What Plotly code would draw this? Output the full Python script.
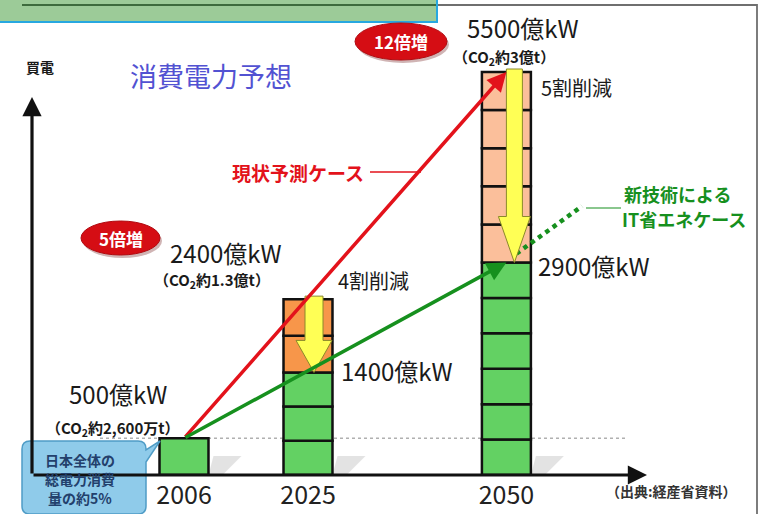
import plotly.graph_objects as go

# ---- data -----------------------------------------------------------------
years = ["2006", "2025", "2050"]
forecast_current = [500, 2400, 5500]      # 億kW  現状予測ケース
forecast_it_saving = [500, 1400, 2900]    # 億kW  新技術によるIT省エネケース
co2_notes = ["（CO<sub>2</sub>約2,600万t）", "（CO<sub>2</sub>約1.3億t）", "（CO<sub>2</sub>約3億t）"]
reduction_notes = ["", "4割削減", "5割削減"]
growth_notes = ["", "5倍増", "12倍増"]
green_cells = [1, 3, 6]
upper_cells = [0, 2, 5]

# ---- layout constants -------------------------------------------------------
W, H = 767, 514
ML, MB = 32, 39
PW, PH = W - ML, H - MB
XPOS = [0, 1, 2.6]                 # horizontal slot of each year
X_RANGE = [-1.2258, 4.7016]
Y_RANGE = [0, 6482.6]
U_PX = PW / (X_RANGE[1] - X_RANGE[0])   # px per x unit
V_PX = PH / (Y_RANGE[1] - Y_RANGE[0])   # px per y unit
BAR_W = 0.395

GREEN = "#63d163"
UPPER = ["#f7964a", "#f7964a", "#fbbf9b"]
RED = "#e3121b"
DKGREEN = "#16901e"
TXT = "#1a1a1a"
FONT = "Noto Sans CJK JP"


def px(x):
    return (x - ML) / PW


def py(y):
    return (PH - y) / PH


def data_to_px(u, v):
    return ML + (u - X_RANGE[0]) * U_PX, PH - (v - Y_RANGE[0]) * V_PX


fig = go.Figure()

# ---- stacked cells ------------------------------------------------------------
for i, yr in enumerate(years):
    n = green_cells[i]
    for k in range(n):
        h = forecast_it_saving[i] / n
        fig.add_trace(go.Bar(x=[XPOS[i]], y=[h], base=[k * h], width=BAR_W,
                             marker=dict(color=GREEN, line=dict(color="#111", width=2.5)),
                             hoverinfo="skip", showlegend=False))
    m = upper_cells[i]
    for k in range(m):
        h = (forecast_current[i] - forecast_it_saving[i]) / m
        fig.add_trace(go.Bar(x=[XPOS[i]], y=[h], base=[forecast_it_saving[i] + k * h], width=BAR_W,
                             marker=dict(color=UPPER[i], line=dict(color="#111", width=2.5)),
                             hoverinfo="skip", showlegend=False))

# dotted extension of the IT-saving trend
DOT_END = (3.21, 3670)
fig.add_trace(go.Scatter(x=[XPOS[2] + 0.08, DOT_END[0]], y=[forecast_it_saving[2] + 120, DOT_END[1]],
                         mode="lines", line=dict(color=DKGREEN, width=4.5, dash="dot"),
                         hoverinfo="skip", showlegend=False))

shapes = []

# outer frame
shapes.append(dict(type="rect", xref="paper", yref="paper", x0=px(-5), x1=px(757), y0=py(5), y1=py(530),
                   line=dict(color="#6f6f6f", width=1.8), fillcolor="rgba(0,0,0,0)", layer="below"))
# top-left banner
shapes.append(dict(type="rect", xref="paper", yref="paper", x0=px(-4), x1=px(437), y0=py(-4), y1=py(22),
                   line=dict(color="#27a8e0", width=2), fillcolor="#9ccb98"))
shapes.append(dict(type="line", xref="paper", yref="paper", x0=px(22), x1=px(436), y0=py(5), y1=py(5),
                   line=dict(color="#3d6b3d", width=2)))

# reference level of 2006
shapes.append(dict(type="line", xref="paper", yref="y", x0=px(100), x1=px(627),
                   y0=forecast_current[0], y1=forecast_current[0],
                   line=dict(color="#b0b0b0", width=1.5, dash="dot"), layer="below"))

# soft shadows beside the bar feet
for i in range(len(years)):
    rx, _ = data_to_px(XPOS[i] + BAR_W / 2, 0)
    path = (f"M {px(rx)},{py(475)} L {px(rx + 5)},{py(456)} L {px(rx + 33)},{py(456)} "
            f"L {px(rx + 14)},{py(475)} Z")
    shapes.append(dict(type="path", xref="paper", yref="paper", path=path,
                       fillcolor="rgba(185,185,185,0.4)", line=dict(width=0), layer="below"))

# yellow reduction arrows
HEAD_PX = [0, 32, 46]
SHAFT_HALF = [0, 9, 8]
HEAD_HALF = [0, 18, 16]
OFFSET_PX = [0, 6, 8]
for i in range(1, len(years)):
    cx = XPOS[i] + OFFSET_PX[i] / U_PX
    sw = SHAFT_HALF[i] / U_PX
    hw = HEAD_HALF[i] / U_PX
    top = forecast_current[i] + 3 / V_PX
    tip = forecast_it_saving[i]
    neck = tip + HEAD_PX[i] / V_PX
    path = (f"M {cx - sw},{top} L {cx + sw},{top} L {cx + sw},{neck} L {cx + hw},{neck} "
            f"L {cx},{tip} L {cx - hw},{neck} L {cx - sw},{neck} Z")
    shapes.append(dict(type="path", xref="x", yref="y", path=path,
                       fillcolor="#ffff55", line=dict(color="#8a8a2a", width=1)))

# red badges
for (x0, x1, y0, y1) in [(355, 447, 23, 60), (81, 160, 221, 255)]:
    shapes.append(dict(type="circle", xref="paper", yref="paper", x0=px(x0 + 2), x1=px(x1 + 2),
                       y0=py(y0 + 3), y1=py(y1 + 3), fillcolor="rgba(120,40,40,0.35)", line=dict(width=0)))
    shapes.append(dict(type="circle", xref="paper", yref="paper", x0=px(x0), x1=px(x1),
                       y0=py(y0), y1=py(y1), fillcolor="#d50d14", line=dict(color="#b00a10", width=1)))

# blue callout
cb = (f"M {px(30)},{py(441)} L {px(138)},{py(441)} Q {px(146)},{py(441)} {px(146)},{py(449)} "
      f"L {px(146)},{py(450)} L {px(160)},{py(441)} L {px(146)},{py(462)} "
      f"L {px(146)},{py(506)} Q {px(146)},{py(514)} {px(138)},{py(514)} "
      f"L {px(30)},{py(514)} Q {px(22)},{py(514)} {px(22)},{py(506)} "
      f"L {px(22)},{py(449)} Q {px(22)},{py(441)} {px(30)},{py(441)} Z")
shapes.append(dict(type="path", xref="paper", yref="paper", path=cb,
                   fillcolor="#8fcbea", line=dict(color="#4f9cc6", width=1.5)))

# leader lines
shapes.append(dict(type="line", xref="paper", yref="paper", x0=px(370), x1=px(421), y0=py(172), y1=py(172),
                   line=dict(color=RED, width=1.5)))
shapes.append(dict(type="line", xref="paper", yref="paper", x0=px(586), x1=px(621), y0=py(208), y1=py(208),
                   line=dict(color=DKGREEN, width=1.2)))

ann = []


def label(x, y, text, size, color=TXT, bold=False, xanchor="center"):
    t = f"<b>{text}</b>" if bold else text
    ann.append(dict(x=px(x), y=py(y), xref="paper", yref="paper", text=t, showarrow=False,
                    xanchor=xanchor, yanchor="middle",
                    font=dict(family=FONT, size=size, color=color)))


# axis arrows
ann.append(dict(x=px(647), y=py(475), xref="paper", yref="paper", ax=-615, ay=0, text="",
                showarrow=True, arrowhead=2, arrowsize=1.2, arrowwidth=3.2, arrowcolor="#111"))
ann.append(dict(x=px(32), y=py(97), xref="paper", yref="paper", ax=0, ay=378, text="",
                showarrow=True, arrowhead=2, arrowsize=1.2, arrowwidth=3.2, arrowcolor="#111"))

# trend arrows from the 2006 level
ann.append(dict(x=XPOS[2], y=forecast_current[2], ax=XPOS[0], ay=forecast_current[0],
                xref="x", yref="y", axref="x", ayref="y", text="", showarrow=True,
                arrowhead=2, arrowsize=1.1, arrowwidth=3.5, arrowcolor=RED))
ann.append(dict(x=XPOS[2], y=forecast_it_saving[2], ax=XPOS[0], ay=forecast_it_saving[0],
                xref="x", yref="y", axref="x", ayref="y", text="", showarrow=True,
                arrowhead=2, arrowsize=1.1, arrowwidth=3.5, arrowcolor=DKGREEN))

# value labels
label(523, 27, f"{forecast_current[2]}億kW", 24)
label(504, 57, co2_notes[2], 15, bold=True)
label(576, 88, reduction_notes[2], 20)
label(226, 252, f"{forecast_current[1]}億kW", 24)
label(212, 280, co2_notes[1], 15, bold=True)
label(373, 280, reduction_notes[1], 20)
label(397, 370, f"{forecast_it_saving[1]}億kW", 24)
label(594, 265, f"{forecast_it_saving[2]}億kW", 24)
label(118, 393, f"{forecast_current[0]}億kW", 24)
label(113, 428, co2_notes[0], 15, bold=True)

label(401, 41, growth_notes[2], 17, color="white", bold=True)
label(121, 238, growth_notes[1], 17, color="white", bold=True)

label(211, 75, "消費電力予想", 27, color="#5252d2")
label(40, 67, "買電", 14, bold=True)
label(298, 172, "現状予測ケース", 19, color=RED, bold=True)
label(622, 194, "新技術による", 18, color=DKGREEN, bold=True, xanchor="left")
label(620, 219, "IT省エネケース", 18, color=DKGREEN, bold=True, xanchor="left")

label(80, 460, "日本全体の", 14, color="#23406c", bold=True)
label(80, 479, "総電力消費", 14, color="#23406c", bold=True)
label(80, 498, "量の約5%", 14, color="#23406c", bold=True)
label(671, 491, "（出典:経産省資料）", 14, color="#333", bold=True)

fig.update_layout(
    width=W, height=H,
    margin=dict(l=ML, r=0, t=0, b=MB),
    paper_bgcolor="white", plot_bgcolor="white",
    barmode="overlay", showlegend=False,
    shapes=shapes, annotations=ann,
    xaxis=dict(range=X_RANGE, showgrid=False, zeroline=False, showline=False,
               tickmode="array", tickvals=XPOS, ticktext=years, ticks="",
               ticklabelstandoff=3,
               tickfont=dict(family=FONT, size=25, color="#222")),
    yaxis=dict(range=Y_RANGE, showgrid=False, zeroline=False, showline=False,
               showticklabels=False),
)

fig.write_html("out.html")
